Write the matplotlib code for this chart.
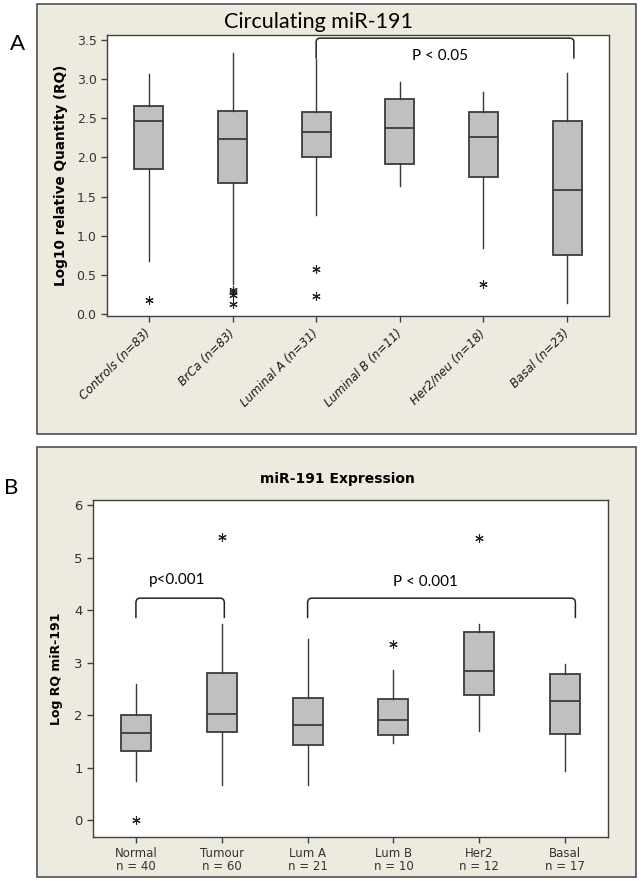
import matplotlib
matplotlib.use('Agg')
import matplotlib.pyplot as plt
from matplotlib.patches import Rectangle, PathPatch
from matplotlib.path import Path

# ---------------------------------------------------------------------------
# Panel A: circulating miR-191 (box statistics)
# ---------------------------------------------------------------------------
a_labels = ['Controls (n=83)', 'BrCa (n=83)', 'Luminal A (n=31)',
            'Luminal B (n=11)', 'Her2/neu (n=18)', 'Basal (n=23)']
a_whislo = [0.68, 0.39, 1.27, 1.64, 0.85, 0.15]
a_q1     = [1.85, 1.68, 2.01, 1.92, 1.75, 0.76]
a_med    = [2.46, 2.24, 2.33, 2.37, 2.26, 1.59]
a_q3     = [2.66, 2.59, 2.58, 2.75, 2.58, 2.46]
a_whishi = [3.06, 3.33, 3.25, 2.96, 2.84, 3.08]
a_fliers = [[0.19], [0.31, 0.28, 0.25, 0.13], [0.58, 0.235], [], [0.385], []]

# ---------------------------------------------------------------------------
# Panel B: miR-191 expression in tissue
# ---------------------------------------------------------------------------
b_labels = ['Normal\nn = 40', 'Tumour\nn = 60', 'Lum A\nn = 21',
            'Lum B\nn = 10', 'Her2\nn = 12', 'Basal\nn = 17']
b_whislo = [0.75, 0.67, 0.67, 1.48, 1.70, 0.94]
b_q1     = [1.31, 1.68, 1.44, 1.63, 2.38, 1.65]
b_med    = [1.66, 2.03, 1.81, 1.90, 2.85, 2.28]
b_q3     = [2.00, 2.81, 2.32, 2.30, 3.58, 2.79]
b_whishi = [2.60, 3.73, 3.45, 2.86, 3.73, 2.98]
b_fliers = [[0.0], [5.40], [], [3.35], [5.38], []]

BEIGE = '#EDEAE0'
EDGE = '#505050'
BOXFILL = '#C0C0C0'
BOXEDGE = '#3C3C3C'


def make_stats(lo, q1, med, q3, hi, fl):
    return [dict(whislo=a, q1=b, med=c, q3=d, whishi=e, fliers=f)
            for a, b, c, d, e, f in zip(lo, q1, med, q3, hi, fl)]


def draw_boxes(ax, stats):
    ax.bxp(stats, positions=range(1, len(stats) + 1), widths=0.35,
           showcaps=False, patch_artist=True,
           boxprops=dict(facecolor=BOXFILL, edgecolor=BOXEDGE, linewidth=1.3),
           medianprops=dict(color=BOXEDGE, linewidth=1.3),
           whiskerprops=dict(color='#383838', linewidth=1.0),
           flierprops=dict(marker=(6, 2, 0), markersize=6,
                           markeredgecolor='#222222', markeredgewidth=0.8,
                           linestyle='none'))


def bracket(ax, x1, x2, ylo, yhi, rx=0.06, ry=0.06):
    verts = [(x1, ylo), (x1, yhi - ry), (x1, yhi), (x1 + rx, yhi),
             (x2 - rx, yhi), (x2, yhi), (x2, yhi - ry), (x2, ylo)]
    codes = [Path.MOVETO, Path.LINETO, Path.CURVE3, Path.CURVE3,
             Path.LINETO, Path.CURVE3, Path.CURVE3, Path.LINETO]
    ax.add_patch(PathPatch(Path(verts, codes), fill=False,
                           edgecolor='#222222', linewidth=1.1))


def style_axes(ax):
    for s in ax.spines.values():
        s.set_color('#404040')
        s.set_linewidth(1.0)
    ax.tick_params(axis='both', direction='out', length=4, width=1.0,
                   color='#404040', labelcolor='#333333')


fig = plt.figure(figsize=(6.42, 8.81), dpi=100)
W, H = 642.0, 881.0

# panel backgrounds
for (x0, y0, x1, y1) in [(37, 4, 636, 434), (37, 447, 636, 877)]:
    fig.add_artist(Rectangle((x0 / W, 1 - y1 / H), (x1 - x0) / W,
                             (y1 - y0) / H, transform=fig.transFigure,
                             facecolor=BEIGE, edgecolor=EDGE, linewidth=1.2,
                             zorder=0))

# ----- Panel A -----
axA = fig.add_axes([107 / W, 1 - 316 / H, 502 / W, 281 / H])
axA.set_facecolor('white')
draw_boxes(axA, make_stats(a_whislo, a_q1, a_med, a_q3, a_whishi, a_fliers))
axA.set_xlim(0.5, 6.5)
axA.set_ylim(-0.02, 3.56)
axA.set_yticks([0.0, 0.5, 1.0, 1.5, 2.0, 2.5, 3.0, 3.5])
axA.set_yticklabels([f'{v:.1f}' for v in axA.get_yticks()], fontsize=9)
axA.set_xticks(range(1, 7))
axA.set_xticklabels(a_labels, rotation=45, ha='right', va='center',
                    rotation_mode='anchor', fontsize=8.5, style='italic')
style_axes(axA)
axA.tick_params(axis='x', pad=7, labelcolor='#1a1a1a')
axA.set_ylabel('Log10 relative Quantity (RQ)', fontsize=9.8,
               fontweight='bold', labelpad=6)
bracket(axA, 3.0, 6.08, 3.26, 3.52, rx=0.05, ry=0.05)
axA.text(4.48, 3.29, 'P < 0.05', ha='center', va='center', fontsize=11,
         family='Lato')
fig.text(318 / W, 1 - 22 / H, 'Circulating miR-191', ha='center',
         va='center', fontsize=15.5, family='Lato')
fig.text(17 / W, 1 - 44 / H, 'A', ha='center', va='center', fontsize=16,
         family='Lato')

# ----- Panel B -----
axB = fig.add_axes([93 / W, 1 - 837 / H, 515 / W, 337 / H])
axB.set_facecolor('white')
draw_boxes(axB, make_stats(b_whislo, b_q1, b_med, b_q3, b_whishi, b_fliers))
axB.set_xlim(0.5, 6.5)
axB.set_ylim(-0.32, 6.1)
axB.set_yticks(range(0, 7))
axB.tick_params(axis='y', labelsize=9.5)
axB.set_xticks(range(1, 7))
axB.set_xticklabels(b_labels, fontsize=8.5, linespacing=1.0)
style_axes(axB)
axB.tick_params(axis='x', pad=3)
axB.set_ylabel('Log RQ miR-191', fontsize=9, fontweight='bold', labelpad=8)
bracket(axB, 1.0, 2.03, 3.85, 4.23, rx=0.05, ry=0.09)
bracket(axB, 3.0, 6.12, 3.85, 4.23, rx=0.05, ry=0.09)
axB.text(1.475, 4.57, 'p<0.001', ha='center', va='center', fontsize=11,
         family='Lato')
axB.text(4.37, 4.53, 'P < 0.001', ha='center', va='center', fontsize=11,
         family='Lato')
fig.text(337 / W, 1 - 479 / H, 'miR-191 Expression', ha='center',
         va='center', fontsize=10, fontweight='bold')
fig.text(11 / W, 1 - 488 / H, 'B', ha='center', va='center', fontsize=16,
         family='Lato')

fig.savefig('out.png', dpi=100)
